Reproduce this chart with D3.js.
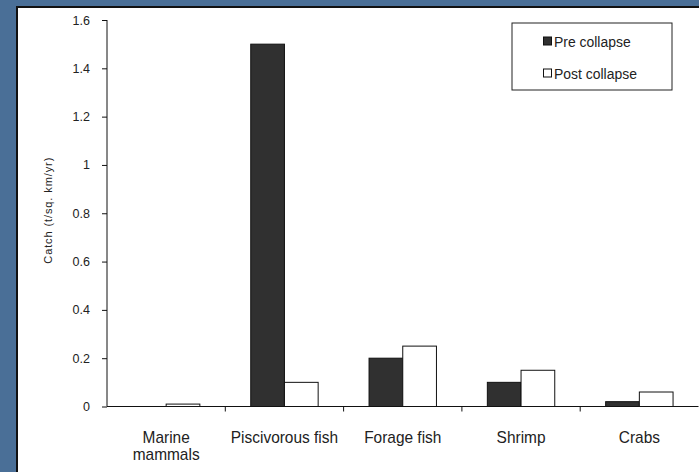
<!DOCTYPE html>
<html>
<head>
<meta charset="utf-8">
<script src="https://cdn.jsdelivr.net/npm/d3@7"></script>
<style>
  html, body { margin: 0; padding: 0; background: #4a6f97; }
  svg { display: block; }
  text { font-family: "Liberation Sans", Arial, sans-serif; fill: #222; }
</style>
</head>
<body>
<svg id="chart" width="699" height="472"></svg>
<script>
// Catch by functional group, before and after the collapse
const categories = ["Marine mammals", "Piscivorous fish", "Forage fish", "Shrimp", "Crabs"];
const categoryLines = [["Marine", "mammals"], ["Piscivorous fish"], ["Forage fish"], ["Shrimp"], ["Crabs"]];
const seriesNames = ["Pre collapse", "Post collapse"];
const preCollapse = [0, 1.5, 0.2, 0.1, 0.02];
const postCollapse = [0.01, 0.1, 0.25, 0.15, 0.06];
const yTicks = [0, 0.2, 0.4, 0.6, 0.8, 1, 1.2, 1.4, 1.6];
const yTitle = "Catch (t/sq. km/yr)";

const seriesValues = [preCollapse, postCollapse];
const seriesFill = ["#303030", "#ffffff"];

const svg = d3.select("#chart");
const W = 699, H = 472;

// Slide frame: blue backdrop, dark edge, white panel
svg.append("rect").attr("x", 0).attr("y", 0).attr("width", W).attr("height", H).attr("fill", "#4a6f97");
svg.append("rect").attr("x", 16).attr("y", 6).attr("width", W - 16).attr("height", H - 6).attr("fill", "#111");
svg.append("rect").attr("x", 18).attr("y", 8).attr("width", W - 18).attr("height", H - 8).attr("fill", "#fff");

const plot = { left: 107, right: 698.5, top: 20, bottom: 406.5 };

const x = d3.scaleBand().domain(categories).range([plot.left, plot.right]).padding(0);
const xs = d3.scaleBand().domain(seriesNames).range([0, x.bandwidth()]).paddingInner(0).paddingOuter(0.755);
const y = d3.scaleLinear().domain([0, 1.6]).range([plot.bottom, plot.top]);

// Bars
const rows = categories.map((c, i) => ({ c, vals: seriesNames.map((s, k) => ({ s, k, v: seriesValues[k][i] })) }));
const groups = svg.append("g").selectAll("g").data(rows).join("g")
  .attr("transform", d => `translate(${x(d.c)},0)`);
groups.selectAll("rect").data(d => d.vals.filter(v => v.v > 0)).join("rect")
  .attr("x", d => xs(d.s))
  .attr("y", d => y(d.v))
  .attr("width", xs.bandwidth())
  .attr("height", d => y(0) - y(d.v))
  .attr("fill", d => seriesFill[d.k])
  .attr("stroke", "#111")
  .attr("stroke-width", 1);

// Y axis
const yAxis = svg.append("g").attr("transform", `translate(${plot.left},0)`)
  .call(d3.axisLeft(y).tickValues(yTicks).tickSize(5).tickPadding(12).tickFormat(d => String(d)));
yAxis.select(".domain").attr("stroke", "#111").attr("d", `M0,${plot.top}V${plot.bottom}`);
yAxis.selectAll(".tick line").attr("stroke", "#111");
yAxis.selectAll(".tick text").attr("font-size", 12.5).attr("fill", "#222")
  .attr("font-family", '"Liberation Sans", Arial, sans-serif');

// X axis line with ticks at category boundaries
const xAxis = svg.append("g");
xAxis.append("line").attr("x1", plot.left).attr("x2", plot.right)
  .attr("y1", y(0)).attr("y2", y(0)).attr("stroke", "#111");
xAxis.selectAll("line.tk").data(categories.slice(1)).join("line").attr("class", "tk")
  .attr("x1", d => x(d)).attr("x2", d => x(d))
  .attr("y1", y(0)).attr("y2", y(0) + 5).attr("stroke", "#111");

// Category labels (slightly condensed, tall type)
const lbl = svg.append("g").selectAll("text").data(categories).join("text")
  .attr("transform", d => `translate(${x(d) + x.bandwidth() / 2},443) scale(0.92,1)`)
  .attr("text-anchor", "middle")
  .attr("font-size", 16.8);
lbl.selectAll("tspan").data((d, i) => categoryLines[i]).join("tspan")
  .attr("x", 0)
  .attr("dy", (d, j) => j === 0 ? 0 : 17)
  .text(d => d);

// Y axis title
svg.append("text")
  .attr("transform", `translate(52,${(plot.top + plot.bottom) / 2 - 3}) rotate(-90)`)
  .attr("text-anchor", "middle")
  .attr("font-size", 11)
  .attr("letter-spacing", 0.9)
  .text(yTitle);

// Legend
const leg = svg.append("g");
leg.append("rect").attr("x", 512).attr("y", 23).attr("width", 160).attr("height", 67)
  .attr("fill", "#fff").attr("stroke", "#222");
seriesNames.forEach((s, k) => {
  const cy = 41 + k * 32;
  leg.append("rect").attr("x", 543.5).attr("y", cy - 4).attr("width", 8).attr("height", 8)
    .attr("fill", seriesFill[k]).attr("stroke", "#111");
  leg.append("text").attr("transform", `translate(554,${cy + 5.5}) scale(0.93,1)`)
    .attr("font-size", 15).text(s);
});
</script>
</body>
</html>
